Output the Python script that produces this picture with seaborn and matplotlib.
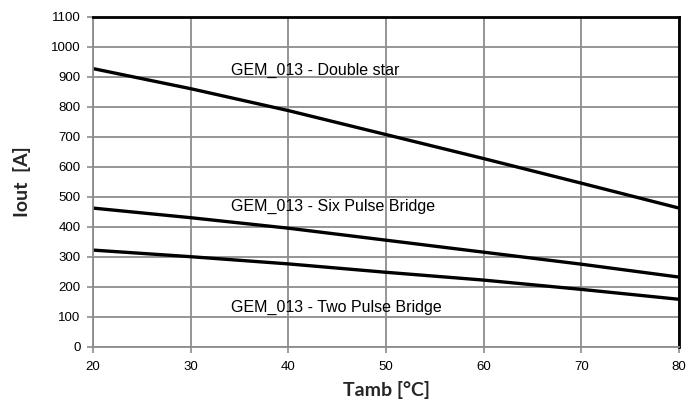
import pandas as pd
import matplotlib.pyplot as plt
import seaborn as sns

tamb = [20, 30, 40, 50, 60, 70, 80]
double_star = [927, 860, 787, 707, 627, 545, 462]
six_pulse = [462, 430, 395, 355, 315, 275, 232]
two_pulse = [322, 300, 276, 248, 222, 191, 158]

series_names = ["GEM_013 - Double star", "GEM_013 - Six Pulse Bridge", "GEM_013 - Two Pulse Bridge"]
label_pos = [(34.1, 922), (34.1, 469), (34.1, 132)]

df = pd.DataFrame({"Tamb": tamb * 3,
                   "Iout": double_star + six_pulse + two_pulse,
                   "series": [series_names[0]] * 7 + [series_names[1]] * 7 + [series_names[2]] * 7})

sns.set_style("white")
plt.rcParams['font.family'] = ['Liberation Sans', 'DejaVu Sans']

fig = plt.figure(figsize=(6.88, 4.12), dpi=100)
ax = fig.add_axes([0.1352, 0.1585, 0.8518, 0.801])

sns.lineplot(data=df, x="Tamb", y="Iout", hue="series",
             palette=["black", "black", "black"], linewidth=2.4,
             legend=False, ax=ax)

for name, (lx, ly) in zip(series_names, label_pos):
    ax.text(lx, ly, name, fontsize=11.5, va="center", ha="left", color="black")

ax.set_xlim(20, 80)
ax.set_ylim(0, 1100)
ax.set_xticks(range(20, 81, 10))
ax.set_yticks(range(0, 1101, 100))
ax.grid(True, color="#8c8c8c", linewidth=1.3)
ax.set_axisbelow(True)

for s in ["left", "bottom"]:
    ax.spines[s].set_color("#8c8c8c")
    ax.spines[s].set_linewidth(1.3)
for s in ["top", "right"]:
    ax.spines[s].set_color("black")
    ax.spines[s].set_linewidth(2.0)

ax.tick_params(axis="both", labelsize=9.5, colors="#8c8c8c", labelcolor="black",
               length=4, width=1.2, direction="out", left=True, bottom=True)
ax.tick_params(axis="y", pad=5)
ax.tick_params(axis="x", pad=6)

ax.set_xlabel("Tamb [°C]", fontsize=14, fontweight="bold", family="Lato", labelpad=6)
ax.set_ylabel("Iout  [A]", fontsize=14, fontweight="bold", family="Lato", labelpad=14)

fig.savefig("out.png", dpi=100)
